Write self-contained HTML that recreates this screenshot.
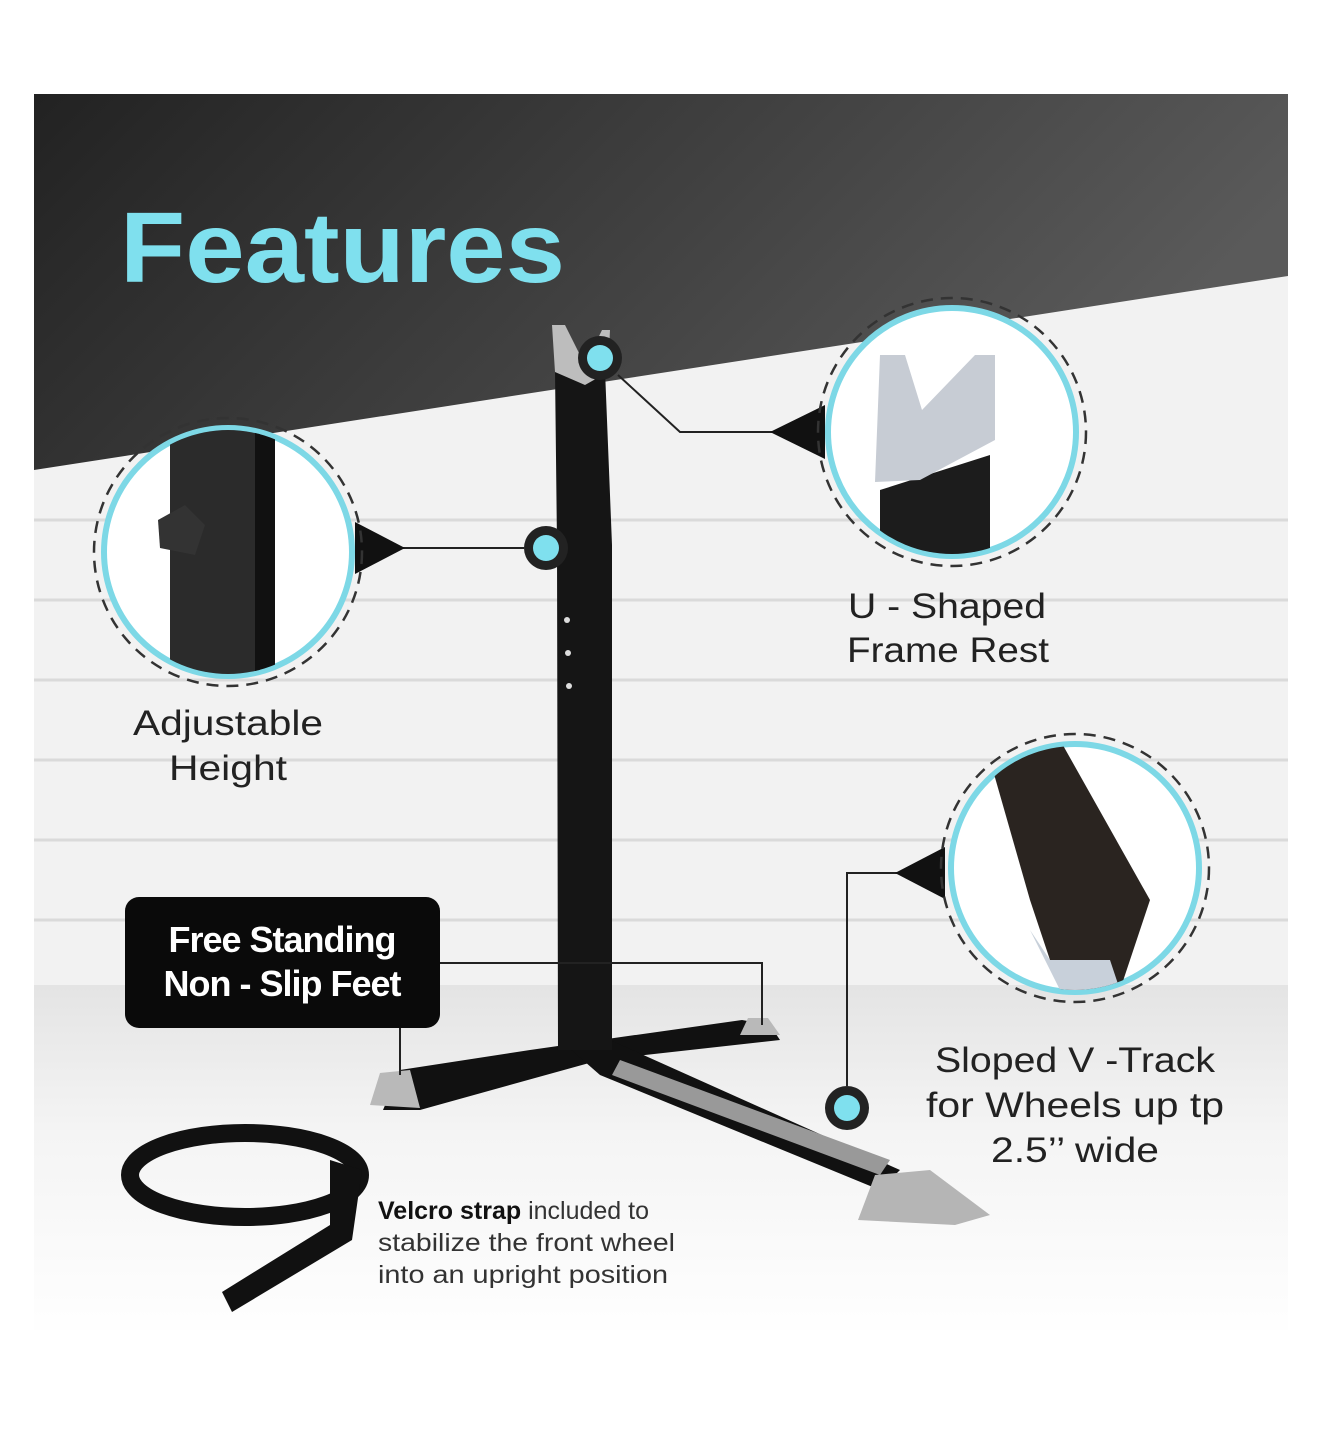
<!DOCTYPE html>
<html><head><style>
html,body{margin:0;padding:0;background:#fff}
svg{display:block}
text{font-family:"Liberation Sans",sans-serif}
</style></head><body>
<svg width="1322" height="1440" viewBox="0 0 1322 1440" xmlns="http://www.w3.org/2000/svg">
<defs>
<linearGradient id="dk" x1="0" y1="0" x2="1" y2="0.3">
<stop offset="0" stop-color="#222"/><stop offset="1" stop-color="#5a5a5a"/></linearGradient>
<linearGradient id="fl" x1="0" y1="0" x2="0" y2="1">
<stop offset="0" stop-color="#e4e4e4"/><stop offset="0.4" stop-color="#f4f4f4"/><stop offset="1" stop-color="#fff"/></linearGradient>
<clipPath id="c1"><circle cx="952" cy="432" r="122"/></clipPath>
<clipPath id="c2"><circle cx="228" cy="552" r="122"/></clipPath>
<clipPath id="c3"><circle cx="1075" cy="868" r="122"/></clipPath>
</defs>
<rect width="1322" height="1440" fill="#fff"/>
<rect x="34" y="94" width="1254" height="1250" fill="#f2f2f2"/>
<g stroke="#dadada" stroke-width="3">
<line x1="34" y1="520" x2="1288" y2="520"/><line x1="34" y1="600" x2="1288" y2="600"/>
<line x1="34" y1="680" x2="1288" y2="680"/><line x1="34" y1="760" x2="1288" y2="760"/>
<line x1="34" y1="840" x2="1288" y2="840"/><line x1="34" y1="920" x2="1288" y2="920"/>
</g>
<rect x="34" y="985" width="1254" height="360" fill="url(#fl)"/>
<rect x="0" y="1330" width="1322" height="110" fill="#fff"/>
<polygon points="34,94 1288,94 1288,276 34,470" fill="url(#dk)"/>
<text x="120" y="282" font-size="100" font-weight="bold" fill="#7fe0ee" textLength="445" lengthAdjust="spacingAndGlyphs">Features</text>

<polygon points="383,1110 400,1070 530,1050 600,1040 742,1020 770,1025 780,1040 600,1060 420,1110" fill="#111"/>
<polygon points="560,1040 610,1040 900,1170 880,1190 600,1075" fill="#111"/>
<polygon points="620,1060 890,1160 880,1175 612,1075" fill="#999"/>
<polygon points="555,370 605,370 612,545 612,1050 558,1050 557,545" fill="#151515"/>
<polygon points="552,325 565,325 585,365 602,330 610,330 608,372 585,385 555,372" fill="#bdbdbd"/>
<circle cx="567" cy="620" r="3" fill="#ddd"/><circle cx="568" cy="653" r="3" fill="#ddd"/><circle cx="569" cy="686" r="3" fill="#ddd"/>
<polygon points="370,1105 380,1073 410,1070 420,1108" fill="#b9b9b9"/>
<polygon points="740,1035 748,1018 768,1018 780,1035" fill="#b9b9b9"/>
<polygon points="858,1220 875,1175 930,1170 990,1215 955,1225" fill="#b5b5b5"/>
<circle cx="600" cy="358" r="22" fill="#222"/><circle cx="600" cy="358" r="13" fill="#7fe0ee"/>
<circle cx="546" cy="548" r="22" fill="#222"/><circle cx="546" cy="548" r="13" fill="#7fe0ee"/>
<circle cx="847" cy="1108" r="22" fill="#222"/><circle cx="847" cy="1108" r="13" fill="#7fe0ee"/>
<g stroke="#222" stroke-width="2" fill="none">
<polyline points="618,375 680,432 790,432"/>
<polyline points="524,548 380,548"/>
<polyline points="847,1086 847,873 915,873"/>
<polyline points="440,963 762,963 762,1025"/>
<polyline points="400,1025 400,1075"/>
</g>
<polygon points="770,432 825,405 825,459" fill="#111"/>
<polygon points="405,548 355,522 355,574" fill="#111"/>
<polygon points="895,873 945,847 945,899" fill="#111"/>
<g fill="#fff" stroke="#7dd8e6" stroke-width="6">
<circle cx="952" cy="432" r="124"/><circle cx="228" cy="552" r="124"/><circle cx="1075" cy="868" r="124"/></g>
<g fill="none" stroke="#333" stroke-width="2.5" stroke-dasharray="12 8">
<circle cx="952" cy="432" r="134"/><circle cx="228" cy="552" r="134"/><circle cx="1075" cy="868" r="134"/></g>
<g clip-path="url(#c1)">
<polygon points="880,490 990,455 990,570 880,570" fill="#1c1c1c"/>
<polygon points="880,355 905,355 922,410 975,355 995,355 995,440 920,480 875,482" fill="#c7ccd4"/>
</g>
<g clip-path="url(#c2)">
<rect x="170" y="420" width="90" height="270" fill="#2b2b2b"/>
<rect x="255" y="420" width="20" height="270" fill="#111"/>
<polygon points="158,520 185,505 205,525 195,555 160,548" fill="#333"/>
</g>
<g clip-path="url(#c3)">
<polygon points="990,760 1060,740 1150,900 1120,990 1060,990 1030,900" fill="#2a2420"/>
<polygon points="1030,930 1060,990 1120,990 1110,960 1050,960" fill="#c8d0da"/>
</g>
<g font-size="35" fill="#222" text-anchor="middle">
<text x="947" y="618" textLength="198" lengthAdjust="spacingAndGlyphs">U - Shaped</text><text x="948" y="662" textLength="202" lengthAdjust="spacingAndGlyphs">Frame Rest</text>
<text x="228" y="735" textLength="190" lengthAdjust="spacingAndGlyphs">Adjustable</text><text x="228" y="780" textLength="118" lengthAdjust="spacingAndGlyphs">Height</text>
<text x="1075" y="1072" textLength="280" lengthAdjust="spacingAndGlyphs">Sloped V -Track</text><text x="1075" y="1117" textLength="298" lengthAdjust="spacingAndGlyphs">for Wheels up tp</text><text x="1075" y="1162" textLength="168" lengthAdjust="spacingAndGlyphs">2.5’’ wide</text>
</g>
<rect x="125" y="897" width="315" height="131" rx="14" fill="#0a0a0a"/>
<g font-size="36" font-weight="bold" fill="#fff" text-anchor="middle" letter-spacing="-1">
<text x="282" y="952">Free Standing</text><text x="282" y="996">Non - Slip Feet</text></g>
<ellipse cx="245" cy="1175" rx="115" ry="42" fill="none" stroke="#111" stroke-width="18"/>
<polygon points="330,1160 362,1170 352,1240 232,1312 222,1292 330,1225" fill="#111"/>
<g font-size="25" fill="#333">
<text x="378" y="1219"><tspan font-weight="bold" fill="#111">Velcro strap</tspan> included to</text>
<text x="378" y="1251" textLength="297" lengthAdjust="spacingAndGlyphs">stabilize the front wheel</text>
<text x="378" y="1283" textLength="290" lengthAdjust="spacingAndGlyphs">into an upright position</text></g>
</svg>
</body></html>
